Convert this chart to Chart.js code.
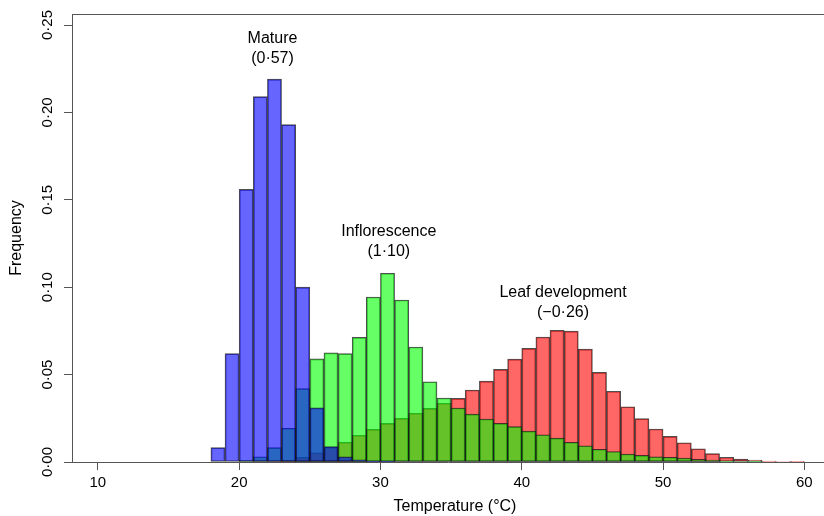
<!DOCTYPE html>
<html>
<head>
<meta charset="utf-8">
<script src="https://cdn.jsdelivr.net/npm/chart.js@4.4.0/dist/chart.umd.min.js"></script>
<style>
  html, body { margin: 0; padding: 0; background: #fff; }
  #wrap { width: 824px; height: 516px; }
</style>
</head>
<body>
<div id="wrap"><canvas id="chart" width="824" height="516"></canvas></div>
<script>
// bin left edges (°C), 1 °C wide
const binStarts = [17, 18, 19, 20, 21, 22, 23, 24, 25, 26, 27, 28, 29, 30, 31, 32, 33, 34, 35, 36, 37, 38,
  39, 40, 41, 42, 43, 44, 45, 46, 47, 48, 49, 50, 51, 52, 53, 54, 55, 56, 57, 58, 59];

const mature = [0, 0.0082, 0.062, 0.156, 0.209, 0.219, 0.193, 0.100, 0.031, 0.0088, 0.003, 0.0012, 0.0005, 0.0002,
  0, 0, 0, 0, 0, 0, 0, 0, 0, 0, 0, 0, 0, 0, 0, 0, 0, 0, 0, 0, 0, 0, 0, 0, 0, 0, 0, 0, 0];

const inflorescence = [0, 0, 0, 0.001, 0.003, 0.0082, 0.0193, 0.042, 0.059, 0.0624, 0.062, 0.0713, 0.0944, 0.108,
  0.0927, 0.0658, 0.0459, 0.0366, 0.0309, 0.0274, 0.0246, 0.0221, 0.0202, 0.0177, 0.0156, 0.0137, 0.0113,
  0.0093, 0.0073, 0.006, 0.0046, 0.0038, 0.003, 0.0027, 0.0023, 0.0015, 0.0011, 0.0005, 0.0003, 0.0001, 0, 0, 0];

const leafDev = [0, 0, 0, 0, 0, 0.0003, 0.001, 0.0027, 0.0053, 0.0083, 0.0113, 0.0153, 0.0187, 0.0221, 0.025,
  0.0279, 0.0307, 0.0336, 0.0364, 0.0412, 0.0463, 0.053, 0.0589, 0.065, 0.0715, 0.0753, 0.0749, 0.0646,
  0.0513, 0.0405, 0.0316, 0.0248, 0.0189, 0.0147, 0.011, 0.0076, 0.0048, 0.0027, 0.0017, 0.0011, 0.0005,
  0.0003, 0.0002];

const xTicks = [10, 20, 30, 40, 50, 60];
const yTicks = [0, 0.05, 0.10, 0.15, 0.20, 0.25];

// labels over each peak: [line1, line2, temperature, frequency]
const peakLabels = [
  ["Mature", "(0\u00b757)", 22.36, 0.242],
  ["Inflorescence", "(1\u00b710)", 30.59, 0.1316],
  ["Leaf development", "(\u22120\u00b726)", 42.92, 0.0967]
];

const FONT = "'Liberation Sans', Arial, Helvetica, sans-serif";
const fmt = (v) => v.toFixed(2).replace(".", "\u00b7");

const toPoints = (vals) => vals.map((v, i) => ({ x: binStarts[i] + 0.5, y: v }));

const barStyle = (fill) => ({
  backgroundColor: fill,
  borderColor: "rgba(20,20,20,0.75)",
  borderWidth: 1,
  borderSkipped: false,
  barPercentage: 1,
  categoryPercentage: 1,
  grouped: false
});

const textPlugin = {
  id: "rText",
  afterDraw(chart) {
    const { ctx, chartArea, scales } = chart;
    ctx.save();
    // top of the plot box
    ctx.strokeStyle = "#555";
    ctx.lineWidth = 1;
    ctx.beginPath();
    ctx.moveTo(chartArea.left, chartArea.top + 0.5);
    ctx.lineTo(chartArea.right, chartArea.top + 0.5);
    ctx.stroke();

    ctx.fillStyle = "#000";
    ctx.textAlign = "center";
    ctx.textBaseline = "middle";

    // peak labels
    ctx.font = "16px " + FONT;
    peakLabels.forEach(([a, b, t, f]) => {
      const x = scales.x.getPixelForValue(t);
      const y = scales.y.getPixelForValue(f);
      ctx.fillText(a, x, y);
      ctx.fillText(b, x, y + 20);
    });

    // y tick labels, rotated like R
    ctx.font = "15px " + FONT;
    yTicks.forEach((v) => {
      const y = scales.y.getPixelForValue(v);
      ctx.save();
      ctx.translate(48, y);
      ctx.rotate(-Math.PI / 2);
      ctx.fillText(fmt(v), 0, 0);
      ctx.restore();
    });

    // axis titles
    ctx.font = "16px " + FONT;
    ctx.save();
    ctx.translate(17, (chartArea.top + chartArea.bottom) / 2);
    ctx.rotate(-Math.PI / 2);
    ctx.fillText("Frequency", 0, 0);
    ctx.restore();
    ctx.fillText("Temperature (\u00b0C)", 455, 507);
    ctx.restore();
  }
};

new Chart(document.getElementById("chart"), {
  type: "bar",
  data: {
    datasets: [
      { label: "Mature", data: toPoints(mature), ...barStyle("rgba(0,0,255,0.6)") },
      { label: "Inflorescence", data: toPoints(inflorescence), ...barStyle("rgba(0,255,0,0.6)") },
      { label: "Leaf development", data: toPoints(leafDev), ...barStyle("rgba(255,0,0,0.6)") }
    ]
  },
  options: {
    responsive: false,
    animation: false,
    devicePixelRatio: 1,
    layout: { padding: { top: 14, right: 0, left: 0, bottom: 0 } },
    plugins: { legend: { display: false }, tooltip: { enabled: false } },
    scales: {
      x: {
        type: "linear",
        offset: false,
        min: 8.17,
        max: 61.39,
        afterBuildTicks: (s) => { s.ticks = xTicks.map((v) => ({ value: v })); },
        afterFit: (s) => { s.height = 54; },
        grid: { offset: false, drawOnChartArea: false, tickLength: 8, color: "#555" },
        border: { color: "#555" },
        ticks: { color: "#000", font: { size: 15, family: FONT }, padding: 4, maxRotation: 0 }
      },
      y: {
        min: 0,
        max: 0.2563,
        afterBuildTicks: (s) => { s.ticks = yTicks.map((v) => ({ value: v })); },
        afterFit: (s) => { s.width = 72; },
        grid: { drawOnChartArea: false, tickLength: 8, color: "#555" },
        border: { color: "#555" },
        ticks: { display: false }
      }
    }
  },
  plugins: [textPlugin]
});
</script>
</body>
</html>
